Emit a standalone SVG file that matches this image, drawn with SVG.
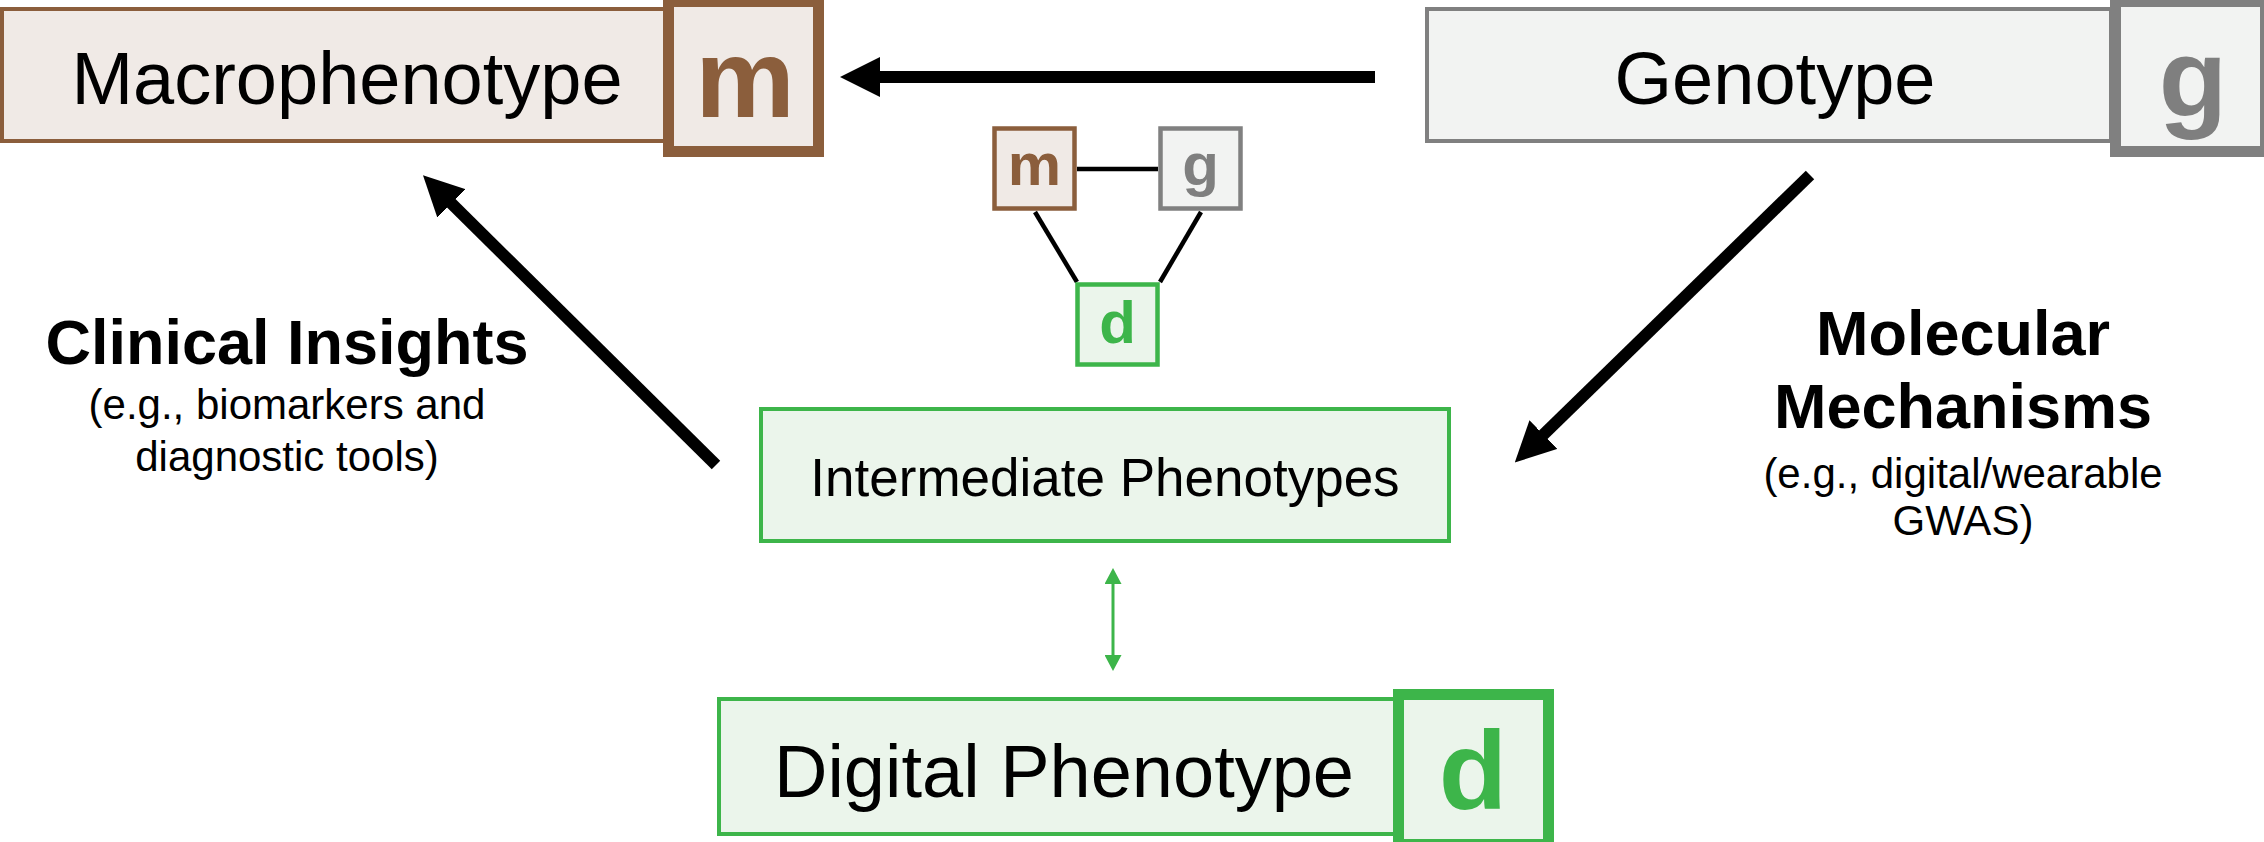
<svg xmlns="http://www.w3.org/2000/svg" width="2264" height="842" viewBox="0 0 2264 842">
  <style>
    .lbl { font-family: "Liberation Sans", Arial, sans-serif; fill: #000; text-anchor: middle; }
    .big { font-size: 74px; }
    .mid { font-size: 53px; }
    .head { font-size: 63px; font-weight: bold; }
    .sub { font-size: 42px; }
    .tag { font-family: "Liberation Sans", Arial, sans-serif; font-weight: bold; text-anchor: middle; }
    .tagL { font-size: 112px; }
    .tagS { font-size: 60px; }
    .m-fill { fill: #F0EAE6; stroke: #8B5E3C; }
    .g-fill { fill: #F2F3F2; stroke: #808080; }
    .d-fill { fill: #EBF5EB; stroke: #3DB54A; }
    .m-txt { fill: #8B5E3C; }
    .g-txt { fill: #7F7F7F; }
    .d-txt { fill: #3DB54A; }
    .arrow { stroke: #000; stroke-width: 12; fill: none; marker-end: url(#head-black); }
    .tri { stroke: #000; stroke-width: 4.5; }
  </style>
  <defs>
    <marker id="head-black" viewBox="0 0 40 40" markerUnits="userSpaceOnUse" markerWidth="40" markerHeight="40" refX="2" refY="20" orient="auto">
      <path d="M0,0 L40,20 L0,40 z" fill="#000"/>
    </marker>
    <marker id="head-green" viewBox="0 0 16 17" markerUnits="userSpaceOnUse" markerWidth="16" markerHeight="17" refX="1" refY="8.5" orient="auto-start-reverse">
      <path d="M0,0 L16,8.5 L0,17 z" fill="#3DB54A"/>
    </marker>
  </defs>

  <!-- connectors -->
  <g id="connectors">
    <line class="arrow" x1="1375" y1="77" x2="878" y2="77"/>
    <line class="arrow" x1="716" y1="465" x2="450" y2="202"/>
    <line class="arrow" x1="1810" y1="175" x2="1542" y2="436"/>
    <line x1="1113" y1="583" x2="1113" y2="656" stroke="#3DB54A" stroke-width="3" marker-start="url(#head-green)" marker-end="url(#head-green)"/>
    <!-- small m-g-d triangle -->
    <line class="tri" x1="1077" y1="169" x2="1158" y2="169"/>
    <line class="tri" x1="1035" y1="212" x2="1077" y2="282"/>
    <line class="tri" x1="1201" y1="212" x2="1160" y2="282"/>
  </g>

  <!-- Macrophenotype -->
  <g id="macrophenotype">
    <rect class="m-fill" x="2" y="9" width="666" height="132" stroke-width="4"/>
    <text class="lbl big" x="347" y="104">Macrophenotype</text>
    <rect class="m-fill" x="668.5" y="1.5" width="150" height="150" stroke-width="11"/>
    <text class="tag tagL m-txt" x="745" y="117">m</text>
  </g>

  <!-- Genotype -->
  <g id="genotype">
    <rect class="g-fill" x="1427" y="9" width="684" height="132" stroke-width="4"/>
    <text class="lbl big" x="1775" y="104">Genotype</text>
    <rect class="g-fill" x="2115.5" y="1.5" width="150" height="150" stroke-width="11"/>
    <text class="tag tagL g-txt" x="2193" y="117">g</text>
  </g>

  <!-- small m / g / d legend -->
  <g id="mini-m">
    <rect class="m-fill" x="994.5" y="128.5" width="80" height="80" stroke-width="4.5"/>
    <text class="tag tagS m-txt" x="1034.5" y="185">m</text>
  </g>
  <g id="mini-g">
    <rect class="g-fill" x="1160.5" y="128.5" width="80" height="80" stroke-width="4.5"/>
    <text class="tag tagS g-txt" x="1200.5" y="185">g</text>
  </g>
  <g id="mini-d">
    <rect class="d-fill" x="1077.5" y="284.5" width="80" height="80" stroke-width="4.5"/>
    <text class="tag tagS d-txt" x="1117.5" y="343">d</text>
  </g>

  <!-- Intermediate Phenotypes -->
  <g id="intermediate">
    <rect class="d-fill" x="761" y="409" width="688" height="132" stroke-width="4"/>
    <text class="lbl mid" x="1105" y="496">Intermediate Phenotypes</text>
  </g>

  <!-- Digital Phenotype -->
  <g id="digital">
    <rect class="d-fill" x="719" y="699" width="676" height="135" stroke-width="4"/>
    <text class="lbl big" x="1064" y="797">Digital Phenotype</text>
    <rect class="d-fill" x="1398.5" y="694.5" width="150" height="150" stroke-width="11"/>
    <text class="tag tagL d-txt" x="1473" y="809">d</text>
  </g>

  <!-- Clinical Insights label -->
  <g id="clinical">
    <text class="lbl head" x="287" y="364">Clinical Insights</text>
    <text class="lbl sub" x="287" y="419">(e.g., biomarkers and</text>
    <text class="lbl sub" x="287" y="471">diagnostic tools)</text>
  </g>

  <!-- Molecular Mechanisms label -->
  <g id="molecular">
    <text class="lbl head" x="1963" y="355">Molecular</text>
    <text class="lbl head" x="1963" y="428">Mechanisms</text>
    <text class="lbl sub" x="1963" y="488">(e.g., digital/wearable</text>
    <text class="lbl sub" x="1963" y="535">GWAS)</text>
  </g>
</svg>
